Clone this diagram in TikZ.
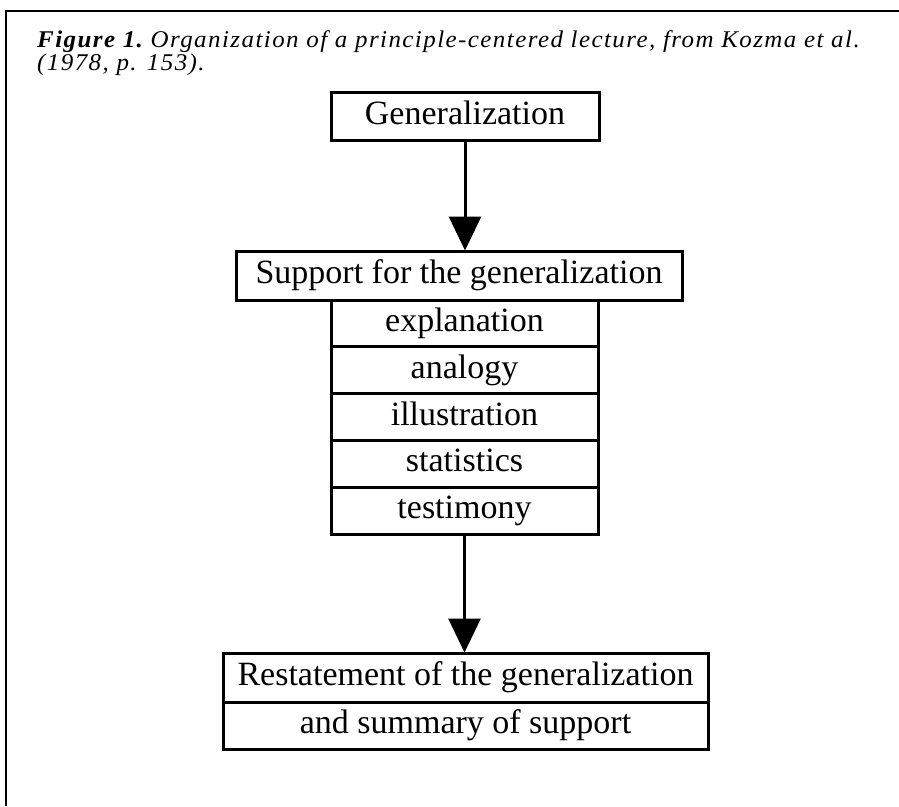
\documentclass[tikz,border=0pt]{standalone}
\usepackage{fontspec}
\setmainfont{Liberation Serif}
\newfontfamily\capfont[FakeStretch=1.04,LetterSpace=6]{Liberation Serif}
\usetikzlibrary{arrows.meta}
\tikzset{
  box/.style={draw, line width=3pt, rectangle, inner sep=0pt, font=\fontsize{34}{38}\selectfont, text height=23pt, text depth=7pt},
  conn/.style={line width=3pt, -{Triangle[width=32pt,length=34pt]}, shorten >=-1pt},
  captext/.style={anchor=base west, inner sep=0pt, font=\capfont\fontsize{24}{28}\selectfont\itshape}
}
\begin{document}
\begin{tikzpicture}[x=1pt,y=-1pt]
\useasboundingbox (0,0) rectangle (899,806);
% frame
\draw[line width=1.6pt] (6,806) -- (6,11) -- (899,11);
% caption
\node[captext] (c1) at (37,47) {\textbf{Figure 1.}\ Organization of a principle-centered lecture, from Kozma et al.};
\node[captext] (c2) at (37,70) {(1978, p. 153).};
% boxes
\node[box, minimum width=268pt, minimum height=48pt] (gen) at (465,116) {Generalization};
\node[box, minimum width=446pt, minimum height=49pt] (sup) at (459,275.5) {Support for the generalization};
\node[box, minimum width=267pt, minimum height=46.8pt] (s1) at (464.5,323.4) {explanation};
\node[box, minimum width=267pt, minimum height=46.8pt] (s2) at (464.5,370.2) {analogy};
\node[box, minimum width=267pt, minimum height=46.8pt] (s3) at (464.5,417.0) {illustration};
\node[box, minimum width=267pt, minimum height=46.8pt] (s4) at (464.5,463.8) {statistics};
\node[box, minimum width=267pt, minimum height=46.8pt] (s5) at (464.5,510.6) {testimony};
\node[box, minimum width=485pt, minimum height=49pt] (r1) at (465.5,677.5) {Restatement of the generalization};
\node[box, minimum width=485pt, minimum height=47pt] (r2) at (465.5,725.5) {and summary of support};
% connectors
\draw[conn] (gen.south) -- (gen.south |- sup.north);
\draw[conn] (s5.south) -- (s5.south |- r1.north);
\end{tikzpicture}
\end{document}
